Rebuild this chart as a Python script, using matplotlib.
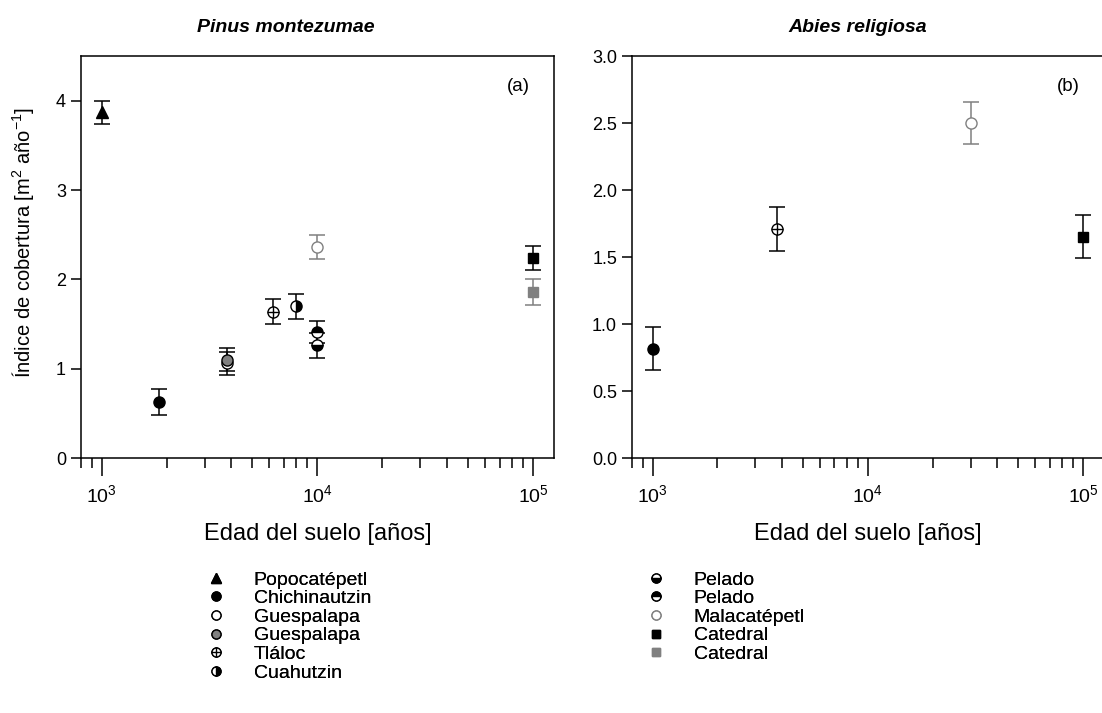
import matplotlib
matplotlib.use('Agg')
import matplotlib.pyplot as plt
from matplotlib.lines import Line2D
from matplotlib.ticker import LogLocator, NullFormatter

plt.rcParams['font.family'] = ['Liberation Sans', 'DejaVu Sans']
plt.rcParams['mathtext.fontset'] = 'custom'
plt.rcParams['mathtext.rm'] = 'Liberation Sans'
plt.rcParams['mathtext.it'] = 'Liberation Sans:italic'
plt.rcParams['mathtext.bf'] = 'Liberation Sans:bold'

GRAY = '#808080'

# panel (a) Pinus montezumae: site -> (age, index, error)
pinus_sites = ['Popocatépetl', 'Chichinautzin', 'Guespalapa', 'Guespalapa gris', 'Tláloc',
               'Cuahutzin', 'Pelado inf', 'Pelado sup', 'Malacatépetl', 'Catedral', 'Catedral gris']
pinus_age = [1000, 1850, 3800, 3800, 6200, 8000, 10000, 10000, 10000, 100000, 100000]
pinus_index = [3.87, 0.63, 1.06, 1.10, 1.64, 1.70, 1.26, 1.41, 2.36, 2.24, 1.86]
pinus_err = [0.13, 0.145, 0.13, 0.13, 0.145, 0.14, 0.14, 0.12, 0.135, 0.13, 0.145]

# panel (b) Abies religiosa
abies_sites = ['Chichinautzin', 'Tláloc', 'Malacatépetl', 'Catedral']
abies_age = [1000, 3800, 30000, 100000]
abies_index = [0.815, 1.71, 2.50, 1.65]
abies_err = [0.16, 0.163, 0.16, 0.16]

# marker style for every site
styles = {
    'Popocatépetl': dict(marker='^', mfc='black', mec='black', ecolor='black'),
    'Chichinautzin': dict(marker='o', mfc='black', mec='black', ecolor='black'),
    'Guespalapa': dict(marker='o', mfc='white', mec='black', ecolor='black'),
    'Guespalapa gris': dict(marker='o', mfc=GRAY, mec='black', ecolor='black'),
    'Tláloc': dict(marker='o', mfc='white', mec='black', ecolor='black'),
    'Cuahutzin': dict(marker='o', mfc='black', mec='black', ecolor='black', fillstyle='right'),
    'Pelado inf': dict(marker='o', mfc='black', mec='black', ecolor='black', fillstyle='bottom'),
    'Pelado sup': dict(marker='o', mfc='black', mec='black', ecolor='black', fillstyle='top'),
    'Malacatépetl': dict(marker='o', mfc='white', mec=GRAY, ecolor=GRAY),
    'Catedral': dict(marker='s', mfc='black', mec='black', ecolor='black'),
    'Catedral gris': dict(marker='s', mfc=GRAY, mec=GRAY, ecolor=GRAY),
}


def draw_point(ax, site, x, y, e):
    st = dict(styles[site])
    ecolor = st.pop('ecolor')
    marker = st.pop('marker')
    fill = st.pop('fillstyle', 'full')
    ms = 7.5 if marker == 's' else 8
    ax.errorbar([x], [y], yerr=[e], fmt='none', ecolor=ecolor, elinewidth=1.1,
                capsize=5.5, capthick=1.1, zorder=2)
    ax.plot([x], [y], linestyle='none', marker=marker, ms=ms, mfc=st['mfc'], mec=st['mec'],
            mew=1.0, fillstyle=fill, markerfacecoloralt='white', zorder=3)
    if site == 'Tláloc':
        ax.plot([x], [y], linestyle='none', marker='+', ms=8, mec='black', mew=1.0, zorder=4)


def style_axis(ax, ylim, yticks, ylabels):
    ax.set_xscale('log')
    ax.set_xlim(800, 125000)
    ax.set_ylim(*ylim)
    ax.set_yticks(yticks)
    ax.set_yticklabels(ylabels)
    ax.xaxis.set_major_locator(LogLocator(base=10, numticks=10))
    ax.xaxis.set_minor_locator(LogLocator(base=10, subs=range(2, 10), numticks=20))
    ax.xaxis.set_minor_formatter(NullFormatter())
    ax.tick_params(axis='x', which='major', direction='out', length=13, width=1.1,
                   labelsize=14, pad=6, top=False)
    ax.tick_params(axis='x', which='minor', direction='out', length=7, width=1.1, top=False)
    ax.tick_params(axis='y', direction='out', length=7, width=1.1, labelsize=13, right=False)
    for sp in ax.spines.values():
        sp.set_linewidth(1.1)
    ax.set_xlabel('Edad del suelo [años]', fontsize=17, labelpad=12)


fig = plt.figure(figsize=(11.02, 7.13), dpi=100)
ax1 = fig.add_axes([0.0732, 0.3576, 0.4295, 0.5638])
ax2 = fig.add_axes([0.5732, 0.3576, 0.4286, 0.5638])

for s, x, y, e in zip(pinus_sites, pinus_age, pinus_index, pinus_err):
    draw_point(ax1, s, x, y, e)
for s, x, y, e in zip(abies_sites, abies_age, abies_index, abies_err):
    draw_point(ax2, s, x, y, e)

style_axis(ax1, (0, 4.5), [0, 1, 2, 3, 4], ['0', '1', '2', '3', '4'])
style_axis(ax2, (0, 3.0), [0, 0.5, 1.0, 1.5, 2.0, 2.5, 3.0],
           ['0.0', '0.5', '1.0', '1.5', '2.0', '2.5', '3.0'])

ax1.set_ylabel('Índice de cobertura [m$^2$ año$^{-1}$]', fontsize=14.5)
ax1.yaxis.set_label_coords(-0.094, 0.535)
ax1.text(0.924, 0.925, '(a)', transform=ax1.transAxes, ha='center', va='center', fontsize=13.5)
ax2.text(0.924, 0.925, '(b)', transform=ax2.transAxes, ha='center', va='center', fontsize=13.5)

fig.text(286 / 1102, 1 - 27 / 713, 'Pinus montezumae', ha='center', va='center',
         fontsize=14, fontweight='bold', fontstyle='italic')
fig.text(858 / 1102, 1 - 27 / 713, 'Abies religiosa', ha='center', va='center',
         fontsize=14, fontweight='bold', fontstyle='italic')


def legend_handle(site):
    st = styles[site]
    ms = 6 if st['marker'] == 's' else 6.5
    h = Line2D([], [], linestyle='none', marker=st['marker'], ms=ms, mfc=st['mfc'],
               mec=st['mec'], mew=1.0, fillstyle=st.get('fillstyle', 'full'),
               markerfacecoloralt='white')
    if site == 'Tláloc':
        return (h, Line2D([], [], linestyle='none', marker='+', ms=6.5, mec='black', mew=1.0))
    return h


col1 = ['Popocatépetl', 'Chichinautzin', 'Guespalapa', 'Guespalapa gris', 'Tláloc', 'Cuahutzin']
col2 = ['Pelado inf', 'Pelado sup', 'Malacatépetl', 'Catedral', 'Catedral gris']
names = {'Guespalapa gris': 'Guespalapa', 'Pelado inf': 'Pelado', 'Pelado sup': 'Pelado',
         'Catedral gris': 'Catedral'}

for col, x0 in [(col1, 206), (col2, 646)]:
    leg = fig.legend([legend_handle(s) for s in col], [names.get(s, s) for s in col],
                     loc='upper left', bbox_to_anchor=(x0 / 1102, 1 - 571 / 713),
                     frameon=False, fontsize=14, handlelength=1.0, handletextpad=1.45,
                     labelspacing=0.05, borderpad=0, borderaxespad=0)
    fig.add_artist(leg)

fig.savefig('out.png', dpi=100)
